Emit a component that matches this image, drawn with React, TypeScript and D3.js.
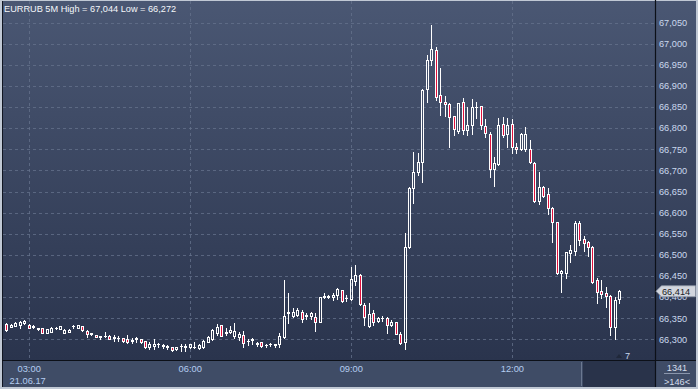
import React from "react";
import * as d3 from "d3";

const W = 698;
const H = 389;

const titleText = "EURRUB 5M High = 67,044 Low = 66,272";
const dateLabel = "21.06.17";
const xTickLabels = ["03:00", "06:00", "09:00", "12:00"];
const yTickValues = [66300, 66350, 66400, 66450, 66500, 66550, 66600, 66650, 66700, 66750, 66800, 66850, 66900, 66950, 67000, 67050];
const lastPrice = 66414;
const barsLabel = "1341";
const scaleLabel = ">146<";
const markerLabel = "7";

const opens = [
  66336, 66330, 66332, 66334, 66338, 66335, 66331, 66324, 66326, 66316,
  66318, 66327, 66325, 66316, 66318, 66331, 66327, 66331, 66321, 66314,
  66310, 66307, 66307, 66309, 66305, 66303, 66303, 66300, 66297, 66302,
  66300, 66296, 66282, 66284, 66288, 66286, 66285, 66283, 66277, 66285,
  66283, 66281, 66281, 66279, 66282, 66295, 66300, 66315, 66334, 66315,
  66318, 66307, 66305, 66310, 66296, 66299, 66288, 66294, 66287, 66288,
  66287, 66289, 66305, 66362, 66356, 66358, 66366, 66357, 66355, 66354,
  66341, 66401, 66401, 66400, 66405, 66417, 66397, 66395, 66439, 66452,
  66381, 66332, 66362, 66343, 66350, 66350, 66334, 66341, 66312, 66293,
  66518, 66658, 66696, 66721, 66892, 66961, 66985, 66878, 66861, 66856,
  66829, 66794, 66861, 66796, 66808, 66849, 66852, 66805, 66786, 66703,
  66715, 66809, 66785, 66809, 66755, 66750, 66750, 66750, 66718, 66628,
  66660, 66644, 66610, 66577, 66457, 66458, 66505, 66510, 66576, 66537,
  66531, 66518, 66441, 66414, 66409, 66403, 66329, 66395,
];
const highs = [
  66339, 66336, 66340, 66344, 66347, 66336, 66333, 66328, 66327, 66325,
  66329, 66330, 66332, 66324, 66325, 66334, 66334, 66332, 66322, 66316,
  66311, 66308, 66318, 66310, 66310, 66308, 66304, 66310, 66303, 66306,
  66301, 66297, 66293, 66301, 66291, 66289, 66287, 66283, 66283, 66289,
  66289, 66289, 66294, 66289, 66299, 66308, 66324, 66336, 66335, 66326,
  66332, 66339, 66318, 66321, 66300, 66303, 66295, 66295, 66289, 66292,
  66290, 66315, 66441, 66409, 66374, 66374, 66370, 66362, 66366, 66362,
  66401, 66409, 66405, 66409, 66421, 66418, 66405, 66472, 66476, 66455,
  66387, 66386, 66370, 66354, 66355, 66352, 66346, 66342, 66318, 66551,
  66660, 66744, 66740, 66893, 66973, 67044, 66991, 66942, 66876, 66859,
  66829, 66860, 66871, 66851, 66868, 66863, 66853, 66821, 66792, 66732,
  66823, 66827, 66823, 66821, 66764, 66789, 66803, 66772, 66721, 66695,
  66662, 66658, 66613, 66578, 66464, 66508, 66524, 66580, 66580, 66545,
  66534, 66520, 66445, 66441, 66425, 66406, 66401, 66417,
];
const lows = [
  66320, 66329, 66331, 66327, 66336, 66326, 66327, 66323, 66314, 66315,
  66317, 66325, 66324, 66315, 66317, 66327, 66326, 66321, 66306, 66310,
  66305, 66302, 66305, 66301, 66297, 66297, 66295, 66292, 66291, 66295,
  66292, 66279, 66277, 66277, 66282, 66279, 66277, 66273, 66275, 66272,
  66273, 66279, 66279, 66277, 66280, 66294, 66299, 66310, 66307, 66310,
  66316, 66303, 66299, 66283, 66287, 66289, 66284, 66283, 66282, 66285,
  66283, 66283, 66303, 66338, 66354, 66355, 66342, 66348, 66348, 66321,
  66340, 66397, 66397, 66393, 66395, 66389, 66392, 66393, 66429, 66381,
  66334, 66330, 66334, 66340, 66344, 66316, 66332, 66312, 66289, 66277,
  66516, 66622, 66689, 66673, 66863, 66949, 66867, 66831, 66829, 66755,
  66784, 66789, 66786, 66784, 66786, 66823, 66797, 66778, 66684, 66664,
  66713, 66780, 66755, 66741, 66742, 66748, 66747, 66717, 66626, 66621,
  66638, 66597, 66531, 66455, 66411, 66445, 66484, 66500, 66523, 66510,
  66498, 66434, 66385, 66397, 66376, 66311, 66300, 66387,
];
const closes = [
  66322, 66335, 66338, 66341, 66344, 66327, 66330, 66327, 66315, 66324,
  66326, 66328, 66331, 66322, 66323, 66332, 66333, 66322, 66313, 66313,
  66306, 66306, 66308, 66302, 66304, 66304, 66296, 66294, 66298, 66303,
  66294, 66282, 66289, 66288, 66289, 66285, 66282, 66275, 66281, 66284,
  66284, 66288, 66283, 66287, 66296, 66306, 66322, 66329, 66308, 66318,
  66323, 66320, 66312, 66291, 66297, 66300, 66292, 66284, 66286, 66289,
  66288, 66307, 66355, 66366, 66364, 66370, 66348, 66355, 66362, 66342,
  66400, 66402, 66402, 66405, 66419, 66391, 66398, 66442, 66452, 66384,
  66354, 66360, 66342, 66351, 66351, 66334, 66342, 66313, 66291, 66519,
  66658, 66697, 66719, 66890, 66961, 66987, 66874, 66863, 66858, 66827,
  66797, 66859, 66796, 66808, 66851, 66851, 66807, 66788, 66703, 66717,
  66807, 66784, 66807, 66755, 66751, 66786, 66786, 66719, 66628, 66660,
  66639, 66610, 66577, 66458, 66462, 66506, 66512, 66576, 66535, 66529,
  66519, 66437, 66411, 66408, 66403, 66329, 66393, 66414,
];

const START = new Date(2017, 5, 21, 2, 35);
const times = opens.map((_, i) => new Date(START.getTime() + i * 5 * 60000));

const FONT = "'Liberation Sans', Arial, sans-serif";
const RED = "#e0103c";
const BULL_STROKE = "#ffffff";

function parseTick(s: string) {
  const [h, m] = s.split(":").map(Number);
  return new Date(2017, 5, 21, h, m);
}

export default function App() {
  const plotLeft = 3;
  const plotRight = 655;
  const plotTop = 1;
  const plotBottom = 360;

  const x = d3
    .scaleTime()
    .domain([times[0], times[times.length - 1]])
    .range([6.3, 619.3]);
  const y = d3.scaleLinear().domain([66300, 67050]).range([339.4, 22.5]);
  const fmt = d3.format(",");

  const candles = opens.map((o, i) => {
    const c = closes[i];
    const px = Math.round(x(times[i]));
    const yO = y(o);
    const yC = y(c);
    const top = Math.round(Math.min(yO, yC));
    const bot = Math.round(Math.max(yO, yC));
    const yH = Math.round(y(highs[i]));
    const yL = Math.round(y(lows[i]));
    const bear = c < o;
    const doji = bot - top < 1;
    return (
      <g key={i}>
        {yH < top && (
          <line x1={px + 0.5} x2={px + 0.5} y1={yH} y2={top} stroke="#fff" strokeWidth={1} />
        )}
        {yL > bot && (
          <line x1={px + 0.5} x2={px + 0.5} y1={bot + 1} y2={yL + 1} stroke="#fff" strokeWidth={1} />
        )}
        {doji ? (
          <line x1={px - 1} x2={px + 2} y1={top + 0.5} y2={top + 0.5} stroke="#fff" strokeWidth={1} />
        ) : (
          <rect
            x={px - 0.5}
            y={top + 0.5}
            width={2}
            height={bot - top}
            fill={bear ? RED : "none"}
            stroke={BULL_STROKE}
            strokeWidth={1}
          />
        )}
      </g>
    );
  });

  const yLast = y(lastPrice);

  return (
    <svg
      width={W}
      height={H}
      style={{ position: "absolute", left: 0, top: 0, display: "block" }}
      fontFamily={FONT}
    >
      <defs>
        <linearGradient id="bg" x1="0" y1="0" x2="0" y2="1">
          <stop offset="0%" stopColor="#4a5773" />
          <stop offset="100%" stopColor="#2a344d" />
        </linearGradient>
      </defs>
      {/* outer frame */}
      <rect x={0} y={0} width={W} height={H} fill="#c0c8d4" />
      <rect x={2} y={1} width={694} height={359} fill="url(#bg)" />
      {/* bottom strip */}
      <rect x={2} y={361} width={694} height={26} fill="#3f4c66" />
      <rect x={583} y={361} width={72} height={26} fill="#29334a" />
      <line x1={581.5} x2={581.5} y1={362} y2={386} stroke="#6b7890" strokeWidth={1} />

      {/* horizontal grid */}
      {yTickValues.map((v) => (
        <line
          key={"hg" + v}
          x1={plotLeft}
          x2={plotRight}
          y1={Math.round(y(v)) + 0.5}
          y2={Math.round(y(v)) + 0.5}
          stroke="#66738d"
          strokeWidth={1}
          strokeDasharray="3,3"
          opacity={0.75}
        />
      ))}
      {/* vertical grid */}
      {xTickLabels.map((t) => {
        const xv = Math.round(x(parseTick(t))) + 0.5;
        return (
          <line
            key={"vg" + t}
            x1={xv}
            x2={xv}
            y1={plotTop}
            y2={plotBottom}
            stroke="#66738d"
            strokeWidth={1}
            strokeDasharray="3,3"
            opacity={0.75}
          />
        );
      })}

      {candles}

      {/* frame lines */}
      <line x1={2.5} x2={2.5} y1={1} y2={387} stroke="#111622" strokeWidth={1} />
      <line x1={plotRight + 0.5} x2={plotRight + 0.5} y1={0} y2={387} stroke="#0c1018" strokeWidth={1.2} />
      <line x1={2} x2={696} y1={plotBottom + 0.5} y2={plotBottom + 0.5} stroke="#0c1018" strokeWidth={1.2} />

      {/* title */}
      <text x={4} y={12} fontSize={9.2} fill="#f4f6fa">
        {titleText}
      </text>

      {/* y axis labels */}
      {yTickValues.map((v) => (
        <text key={"yl" + v} x={659} y={y(v) + 3.3} fontSize={9.2} fill="#cbd8ee">
          {fmt(v)}
        </text>
      ))}

      {/* current price marker */}
      <path
        d={`M656,${yLast} L661.5,${yLast - 5.5} L695.5,${yLast - 5.5} L695.5,${yLast + 5.5} L661.5,${yLast + 5.5} Z`}
        fill="#d2d6de"
        stroke="#8a93a3"
        strokeWidth={0.8}
      />
      <text x={662} y={yLast + 3.4} fontSize={9.2} fill="#1a1d26">
        {fmt(lastPrice)}
      </text>

      {/* x axis labels */}
      {xTickLabels.map((t) => (
        <text
          key={"xl" + t}
          x={x(parseTick(t)) + 0.5}
          y={371.5}
          fontSize={9.3}
          fill="#b4cdf0"
          textAnchor="middle"
        >
          {t}
        </text>
      ))}
      <text x={x(parseTick(xTickLabels[0])) - 1} y={383.5} fontSize={9.3} fill="#b4cdf0" textAnchor="middle">
        {dateLabel}
      </text>

      {/* marker 7 */}
      <path d="M616,358 L619,354 L622,358 Z" fill="#20283a" />
      <text x={625} y={358.5} fontSize={9.2} fill="#cbd8ee">
        {markerLabel}
      </text>

      {/* bottom right */}
      <text x={677} y={371} fontSize={9.2} fill="#d6deec" textAnchor="middle">
        {barsLabel}
      </text>
      <line x1={664} x2={690} y1={373.5} y2={373.5} stroke="#8a96ac" strokeWidth={1} />
      <text x={677} y={384.5} fontSize={9.2} fill="#d6deec" textAnchor="middle">
        {scaleLabel}
      </text>
    </svg>
  );
}
